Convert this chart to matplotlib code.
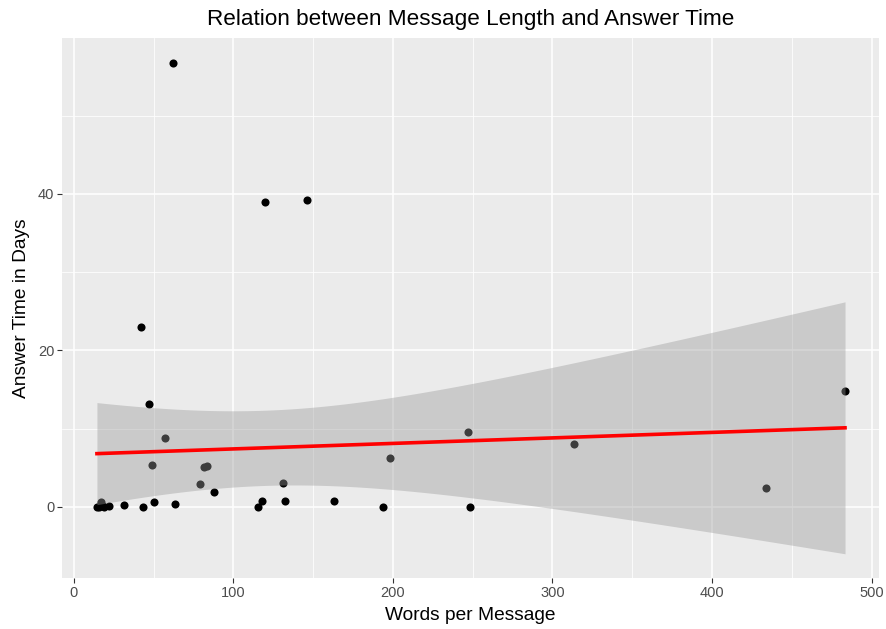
import numpy as np
import matplotlib
matplotlib.use("Agg")
import matplotlib.pyplot as plt

plt.rcParams['font.family'] = ['Liberation Sans', 'DejaVu Sans']

words = [62.1, 119.7, 146.1, 42.0, 47.0, 57.2, 49.0, 79.0, 81.5, 83.4, 88.0,
         50.0, 63.3, 43.0, 31.3, 22.0, 14.4, 16.0, 19.0, 17.0, 18.0,
         115.4, 118.0, 131.0, 132.3, 163.0, 193.7, 198.0, 247.0, 248.0, 313.5,
         434.0, 483.4]
days = [56.7, 38.95, 39.2, 23.0, 13.15, 8.8, 5.3, 2.9, 5.1, 5.25, 1.9,
        0.6, 0.4, 0.05, 0.3, 0.1, 0.0, 0.0, 0.0, 0.7, 0.1,
        0.05, 0.8, 3.1, 0.8, 0.75, 0.0, 6.3, 9.6, 0.05, 8.0,
        2.4, 14.8]

title = "Relation between Message Length and Answer Time"
xlabel = "Words per Message"
ylabel = "Answer Time in Days"

x = np.array(words)
y = np.array(days)
n = len(x)
b, a = np.polyfit(x, y, 1)
resid = y - (a + b * x)
s = np.sqrt(np.sum(resid ** 2) / (n - 2))
xg = np.linspace(x.min(), x.max(), 200)
yg = a + b * xg
sxx = np.sum((x - x.mean()) ** 2)
se = s * np.sqrt(1.0 / n + (xg - x.mean()) ** 2 / sxx)
tval = 2.04
lo, hi = yg - tval * se, yg + tval * se

fig = plt.figure(figsize=(8.87, 6.29), dpi=100)
ax = fig.add_axes([62 / 887, 1 - 578 / 629, (879 - 62) / 887, (578 - 38) / 629])
ax.set_facecolor('#EBEBEB')
for sp in ax.spines.values():
    sp.set_visible(False)

ax.set_xlim(-7.5, 504.7)
ax.set_ylim(-9.07, 59.9)
ax.set_xticks([0, 100, 200, 300, 400, 500])
ax.set_yticks([0, 20, 40])
ax.set_xticks([50, 150, 250, 350, 450], minor=True)
ax.set_yticks([10, 30, 50], minor=True)
ax.grid(True, which='major', color='white', lw=1.1, zorder=0)
ax.grid(True, which='minor', color='white', lw=0.55, zorder=0)
ax.set_axisbelow(True)
ax.tick_params(which='major', length=3.5, width=0.8, color='#333333',
               labelcolor='#4D4D4D', labelsize=10.5, pad=2)
ax.tick_params(which='minor', length=0)

ax.scatter(x, y, s=34, color='black', zorder=2, linewidths=0)
ax.fill_between(xg, lo, hi, color='#999999', alpha=0.4, lw=0, zorder=3)
ax.plot(xg, yg, color='#FF0000', lw=2.6, zorder=4)

ax.set_title(title, fontsize=16.2, pad=9)
ax.set_xlabel(xlabel, fontsize=13.8, labelpad=5)
ax.set_ylabel(ylabel, fontsize=13.8, labelpad=6)

fig.savefig('out.png', dpi=100)
